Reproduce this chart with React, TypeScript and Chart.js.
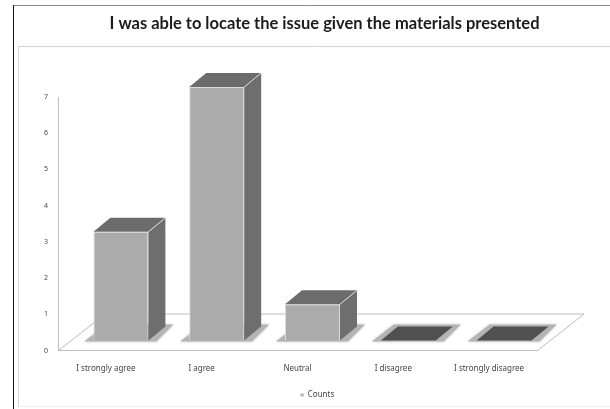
import React, { useEffect, useRef } from "react";
import { Chart, registerables, Plugin } from "chart.js";

Chart.register(...registerables);

const titleText = "I was able to locate the issue given the materials presented";
const categories = ["I strongly agree", "I agree", "Neutral", "I disagree", "I strongly disagree"];
const counts = [3, 7, 1, 0, 0];
const seriesName = "Counts";

// Pixel offsets that give the flat bars their pseudo-3D look.
const BAR_SHIFT_X = 15;
const BAR_SHIFT_Y = -10;
const DEPTH_X = 17;
const DEPTH_Y = 14;
const FLOOR_X = 47;
const FLOOR_Y = 37;

const COLOR_FRONT = "#ababab";
const COLOR_SIDE = "#6e6e6e";
const COLOR_TOP = "#6c6c6c";
const COLOR_EMPTY = "#505050";
const COLOR_EDGE = "#dcdcdc";
const COLOR_AXIS = "#bdbdbd";
const COLOR_TEXT = "#444444";

function poly(ctx: CanvasRenderingContext2D, pts: number[][]) {
  ctx.beginPath();
  pts.forEach(([x, y], i) => (i ? ctx.lineTo(x, y) : ctx.moveTo(x, y)));
  ctx.closePath();
}

const framePlugin: Plugin = {
  id: "frame",
  afterLayout(chart: any) {
    // Centre the title and legend over the plot rather than the padded box.
    chart.titleBlock.left += 56;
    chart.titleBlock.right += 56;
    chart.legend.left += 49;
    chart.legend.right += 49;
  },
  beforeDraw(chart) {
    const { ctx, width, height } = chart;
    ctx.save();
    ctx.fillStyle = "#ffffff";
    ctx.fillRect(0, 0, width, height);
    ctx.lineWidth = 1;
    ctx.strokeStyle = "#8a8a8a";
    ctx.beginPath();
    ctx.moveTo(13, 5.5);
    ctx.lineTo(width, 5.5);
    ctx.stroke();
    ctx.strokeStyle = "#111111";
    ctx.beginPath();
    ctx.moveTo(13.5, 5);
    ctx.lineTo(13.5, height);
    ctx.stroke();
    ctx.strokeStyle = "#d4d4d4";
    ctx.beginPath();
    ctx.moveTo(18.5, height - 2);
    ctx.lineTo(18.5, 46.5);
    ctx.lineTo(width, 46.5);
    ctx.stroke();
    ctx.strokeStyle = "#ececec";
    ctx.beginPath();
    ctx.moveTo(18.5, height - 2.5);
    ctx.lineTo(width, height - 2.5);
    ctx.stroke();
    ctx.restore();
  },
};

const depthPlugin: Plugin = {
  id: "depth",
  beforeDatasetsDraw(chart) {
    const { ctx, scales } = chart;
    const left = scales.x.left;
    const right = scales.x.right;
    const floor = scales.y.getPixelForValue(0);
    ctx.save();
    // Floor plane behind the bars.
    ctx.strokeStyle = COLOR_AXIS;
    ctx.lineWidth = 1;
    ctx.beginPath();
    ctx.moveTo(left, floor + 0.5);
    ctx.lineTo(left + FLOOR_X, floor - FLOOR_Y + 0.5);
    ctx.lineTo(right + FLOOR_X, floor - FLOOR_Y + 0.5);
    ctx.lineTo(right, floor + 0.5);
    ctx.stroke();
    ctx.translate(BAR_SHIFT_X, BAR_SHIFT_Y);
    // Soft contact shadow round each bar's footprint.
    chart.getDatasetMeta(0).data.forEach((bar: any) => {
      const l = bar.x - bar.width / 2;
      const r = bar.x + bar.width / 2;
      const b = bar.base + 1;
      ctx.save();
      ctx.fillStyle = "#b4b4b4";
      ctx.shadowColor = "#c4c4c4";
      ctx.shadowBlur = 3;
      poly(ctx, [
        [l - 9, b],
        [r + 8, b],
        [r + DEPTH_X + 8, b - DEPTH_Y - 3],
        [l + DEPTH_X - 4, b - DEPTH_Y - 3],
      ]);
      ctx.fill();
      ctx.restore();
    });
  },
  afterDatasetsDraw(chart) {
    const { ctx } = chart;
    chart.getDatasetMeta(0).data.forEach((bar: any, i: number) => {
      const l = bar.x - bar.width / 2;
      const r = bar.x + bar.width / 2;
      const top = bar.y;
      const base = bar.base;
      ctx.lineWidth = 1;
      ctx.strokeStyle = COLOR_EDGE;
      if (counts[i] === 0) {
        ctx.fillStyle = COLOR_EMPTY;
        poly(ctx, [
          [l, base],
          [r, base],
          [r + DEPTH_X, base - DEPTH_Y],
          [l + DEPTH_X, base - DEPTH_Y],
        ]);
        ctx.fill();
        return;
      }
      ctx.fillStyle = COLOR_SIDE;
      poly(ctx, [
        [r, top],
        [r + DEPTH_X, top - DEPTH_Y],
        [r + DEPTH_X, base - DEPTH_Y],
        [r, base],
      ]);
      ctx.fill();
      ctx.fillStyle = COLOR_TOP;
      poly(ctx, [
        [l, top],
        [r, top],
        [r + DEPTH_X, top - DEPTH_Y],
        [l + DEPTH_X, top - DEPTH_Y],
      ]);
      ctx.fill();
      ctx.beginPath();
      ctx.moveTo(r, top);
      ctx.lineTo(r + DEPTH_X, top - DEPTH_Y);
      ctx.stroke();
    });
    ctx.restore();
  },
};

export default function App() {
  const ref = useRef<HTMLCanvasElement>(null);

  useEffect(() => {
    const chart = new Chart(ref.current!, {
      type: "bar",
      data: {
        labels: categories,
        datasets: [
          {
            label: seriesName,
            data: counts,
            backgroundColor: COLOR_FRONT,
            borderColor: COLOR_EDGE,
            borderWidth: 1,
            barPercentage: 0.574,
            categoryPercentage: 1,
            clip: false,
          } as any,
        ],
      },
      options: {
        responsive: false,
        animation: false,
        events: [],
        layout: { padding: { left: 0, right: 73, top: 0, bottom: 0 } },
        plugins: {
          tooltip: { enabled: false },
          title: {
            display: true,
            text: titleText,
            color: "#1c1c1c",
            font: { family: "Lato", size: 16.5, weight: "bold", lineHeight: 1.2 },
            padding: { top: 14, bottom: 63.2 },
          },
          legend: {
            display: true,
            position: "bottom",
            labels: {
              boxWidth: 3,
              boxHeight: 3,
              padding: 3.5,
              color: COLOR_TEXT,
              font: { family: "Noto Sans", size: 8 },
            },
          },
        },
        scales: {
          x: {
            grid: { display: false, drawTicks: false },
            border: { display: true, color: COLOR_AXIS },
            ticks: {
              color: COLOR_TEXT,
              padding: 13,
              maxRotation: 0,
              autoSkip: false,
              font: { family: "Noto Sans", size: 8 },
            },
            afterFit(scale: any) {
              scale.height = 37;
            },
          },
          y: {
            min: 0,
            max: 7,
            grid: { display: false, drawTicks: false },
            border: { display: true, color: COLOR_AXIS },
            ticks: {
              stepSize: 1,
              color: COLOR_TEXT,
              padding: 10,
              font: { family: "Noto Sans", size: 7 },
            },
            afterFit(scale: any) {
              scale.width = 58;
            },
          },
        },
      },
      plugins: [framePlugin, depthPlugin],
    } as any);
    return () => chart.destroy();
  }, []);

  return (
    <div style={{ position: "absolute", left: 0, top: 0 }}>
      <canvas ref={ref} width={610} height={409} style={{ display: "block" }} />
    </div>
  );
}
